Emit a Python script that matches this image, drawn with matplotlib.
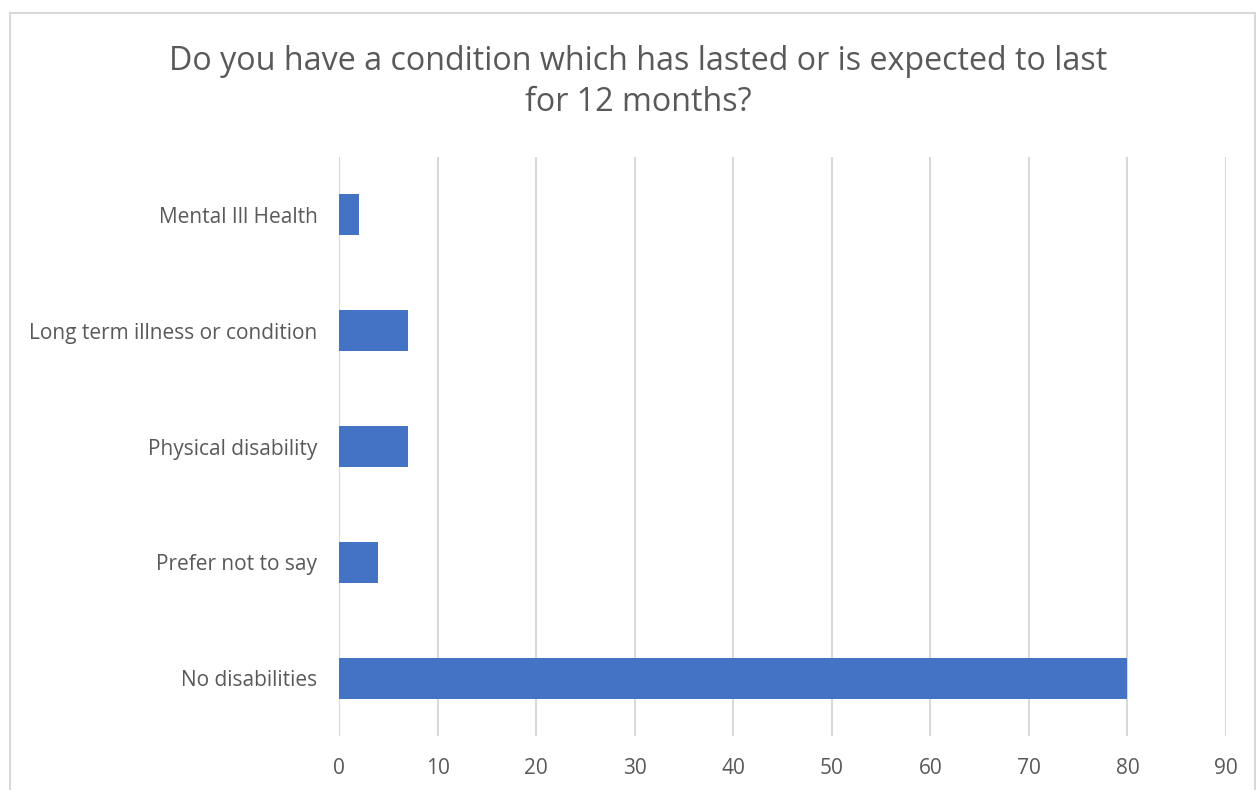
import matplotlib.pyplot as plt
from matplotlib.patches import Rectangle

# Data (top to bottom as shown in the chart)
categories = ["Mental Ill Health", "Long term illness or condition",
              "Physical disability", "Prefer not to say", "No disabilities"]
counts = [2, 7, 7, 4, 80]
x_ticks = [0, 10, 20, 30, 40, 50, 60, 70, 80, 90]

title = "Do you have a condition which has lasted or is expected to last\nfor 12 months?"

text_color = "#595959"
grid_color = "#D9D9D9"
bar_color = "#4472C4"

plt.rcParams['font.family'] = ['Open Sans', 'DejaVu Sans']

fig = plt.figure(figsize=(12.56, 7.9), dpi=100)
ax = fig.add_axes([339 / 1256, 1 - 736 / 790, (1226 - 339) / 1256, (736 - 157) / 790])

# Bars
ax.barh(categories, counts, height=0.355, color=bar_color, zorder=3)
ax.set_ylim(len(categories) - 0.5, -0.5)
ax.set_xlim(0, 90)
ax.set_xticks(x_ticks)

# Gridlines, no spines
ax.grid(axis="x", color=grid_color, linewidth=1.5, zorder=0)
for side in ["top", "right", "bottom", "left"]:
    ax.spines[side].set_visible(False)

ax.tick_params(axis="both", length=0, colors=text_color, labelsize=15)
ax.tick_params(axis="y", pad=15.5)
ax.tick_params(axis="x", pad=16)

# Title
fig.text(638 / 1256, 1 - 82 / 790, title, ha="center", va="center",
         fontsize=23.2, color=text_color, linespacing=1.3)

# Chart area border
fig.patches.append(Rectangle((10 / 1256, -0.1), 1245 / 1256, 1.1 - 13 / 790,
                             transform=fig.transFigure, fill=False,
                             edgecolor=grid_color, linewidth=1.5))

fig.savefig("out.png", dpi=100)
